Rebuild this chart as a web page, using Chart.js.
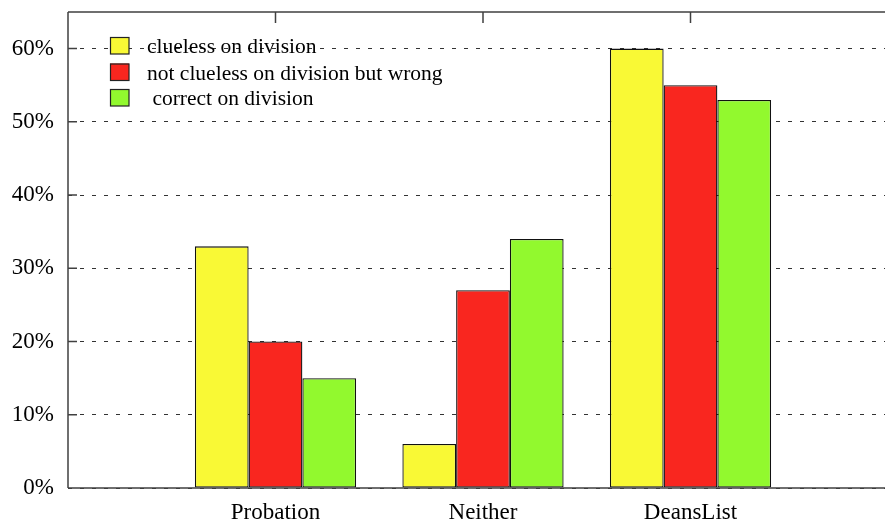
<!DOCTYPE html>
<html>
<head>
<meta charset="utf-8">
<script src="https://cdn.jsdelivr.net/npm/chart.js@4"></script>
<style>
  html, body { margin: 0; padding: 0; background: #fff; }
  #wrap { width: 885px; height: 521px; overflow: hidden; }
  canvas { display: block; }
</style>
</head>
<body>
<div id="wrap"><canvas id="chart" width="910" height="521"></canvas></div>
<script>
const categories = ['Probation', 'Neither', 'DeansList'];
const seriesNames = ['clueless on division', 'not clueless on division but wrong', ' correct on division'];
const clueless = [33, 6, 60];
const wrong = [20, 27, 55];
const correct = [15, 34, 53];
const yTicks = [0, 10, 20, 30, 40, 50, 60];
const colors = ['#f9f935', '#f9261f', '#92f92e'];

const FONT = "'Liberation Serif','DejaVu Serif',serif";
const toPoints = (arr) => arr.map((v, i) => ({ x: i + 1, y: v }));

const axesPlugin = {
  id: 'gnuplotAxes',
  afterDatasetsDraw(chart) {
    const { ctx, chartArea: a, scales } = chart;
    ctx.save();
    ctx.strokeStyle = '#404040';
    ctx.lineWidth = 1.5;
    ctx.beginPath();
    ctx.moveTo(a.left, a.top); ctx.lineTo(a.left, a.bottom);
    ctx.moveTo(a.left, a.top); ctx.lineTo(a.right, a.top);
    ctx.moveTo(a.left, a.bottom); ctx.lineTo(a.right, a.bottom);
    yTicks.forEach(v => {
      const y = scales.y.getPixelForValue(v);
      ctx.moveTo(a.left, y); ctx.lineTo(a.left + 9, y);
    });
    categories.forEach((c, i) => {
      const x = scales.x.getPixelForValue(i + 1);
      ctx.moveTo(x, a.top); ctx.lineTo(x, a.top + 11);
    });
    ctx.stroke();
    ctx.restore();
  }
};

const legendPlugin = {
  id: 'boxLegend',
  afterDraw(chart) {
    const { ctx } = chart;
    const rows = [45.5, 72, 97.5];
    ctx.save();
    ctx.font = "21.5px " + FONT;
    ctx.textBaseline = 'alphabetic';
    seriesNames.forEach((name, i) => {
      const cy = rows[i];
      ctx.fillStyle = colors[i];
      ctx.fillRect(110, cy - 8.5, 19, 17);
      ctx.strokeStyle = '#222';
      ctx.lineWidth = 1.2;
      ctx.strokeRect(110.5, cy - 8, 18.5, 16.5);
      ctx.fillStyle = '#000';
      ctx.fillText(name, 147, cy + 7.5);
    });
    ctx.restore();
  }
};

const makeSet = (label, data, color) => ({
  label,
  data: toPoints(data),
  backgroundColor: color,
  borderColor: '#111',
  borderWidth: 1.3,
  borderSkipped: false,
  categoryPercentage: 0.777,
  barPercentage: 1
});

new Chart(document.getElementById('chart'), {
  type: 'bar',
  data: {
    datasets: [
      makeSet(seriesNames[0], clueless, colors[0]),
      makeSet(seriesNames[1], wrong, colors[1]),
      makeSet(seriesNames[2], correct, colors[2])
    ]
  },
  options: {
    responsive: false,
    animation: false,
    layout: { padding: { top: 12, right: 12, left: 0, bottom: 0 } },
    plugins: { legend: { display: false }, tooltip: { enabled: false } },
    scales: {
      x: {
        type: 'linear',
        offset: false,
        min: 0,
        max: 4,
        grid: { display: false, drawTicks: false, offset: false },
        border: { display: false },
        afterBuildTicks: (scale) => { scale.ticks = categories.map((c, i) => ({ value: i + 1 })); },
        afterFit: (scale) => {
          scale.height = 33;
          scale.paddingLeft = 0; scale.paddingRight = 0;
        },
        ticks: {
          padding: 11,
          color: '#000',
          font: { family: FONT, size: 23 },
          maxRotation: 0,
          autoSkip: false,
          callback: (v) => categories[v - 1] || ''
        }
      },
      y: {
        min: 0,
        max: 65,
        afterBuildTicks: (scale) => { scale.ticks = yTicks.map(v => ({ value: v })); },
        afterFit: (scale) => {
          scale.width = 68;
          scale.paddingTop = 0; scale.paddingBottom = 0;
        },
        grid: { color: '#333', lineWidth: 1, drawTicks: false },
        border: { display: false, dash: [4, 8] },
        ticks: {
          padding: 14,
          color: '#000',
          font: { family: FONT, size: 23 },
          callback: (v) => v + '%'
        }
      }
    }
  },
  plugins: [axesPlugin, legendPlugin]
});
</script>
</body>
</html>
